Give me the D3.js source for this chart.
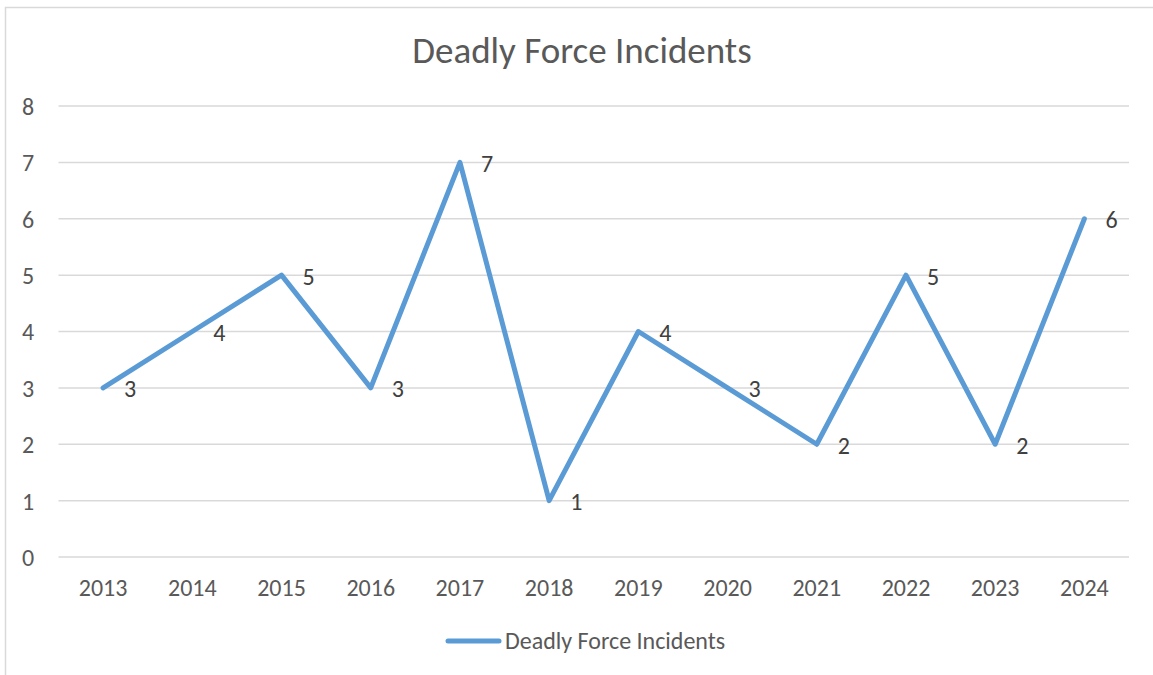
<!DOCTYPE html>
<html><head><meta charset="utf-8">
<script src="https://cdn.jsdelivr.net/npm/d3@7"></script>
<style>html,body{margin:0;padding:0;background:#fff;overflow:hidden}</style>
</head><body>
<svg id="c" width="1153" height="675"></svg>
<script>
const years = ["2013","2014","2015","2016","2017","2018","2019","2020","2021","2022","2023","2024"];
const incidents = [3,4,5,3,7,1,4,3,2,5,2,6];
const yTicks = [0,1,2,3,4,5,6,7,8];
const seriesName = "Deadly Force Incidents";
const titleText = "Deadly Force Incidents";

const svg = d3.select("#c");
const font = "Carlito, Lato, 'Open Sans', sans-serif";
const txt = "#595959";

// chart border (only top/left visible)
svg.append("rect").attr("x",5.5).attr("y",7.5).attr("width",1200).attr("height",700)
  .attr("fill","none").attr("stroke","#d9d9d9").attr("stroke-width",1.5);

const x = d3.scaleBand().domain(years).range([58.5,1129]);
const y = d3.scaleLinear().domain([0,8]).range([557,106]);

// gridlines
svg.append("g").selectAll("line").data(yTicks).join("line")
  .attr("x1",58.5).attr("x2",1129).attr("y1",d=>y(d)).attr("y2",d=>y(d))
  .attr("stroke","#d9d9d9").attr("stroke-width",1.5);

// y axis labels
const yAxis = d3.axisLeft(y).tickValues(yTicks).tickSize(0).tickPadding(0);
const yg = svg.append("g").attr("transform","translate(35,0)").call(yAxis);
yg.select(".domain").remove();
yg.selectAll("text").attr("font-family",font).attr("font-size",24).attr("fill",txt)
  .attr("text-anchor","middle").attr("dy","0.35em").attr("x",-7);

// x axis labels
const xAxis = d3.axisBottom(x).tickSize(0).tickPadding(0);
const xg = svg.append("g").attr("transform","translate(0,579)").call(xAxis);
xg.select(".domain").remove();
xg.selectAll("text").attr("font-family",font).attr("font-size",24).attr("fill",txt).attr("dy","0.35em").attr("y",9);

const cx = d => x(d) + x.bandwidth()/2;
const line = d3.line().x((d,i)=>cx(years[i])).y(d=>y(d));
svg.append("path").datum(incidents).attr("d",line).attr("fill","none")
  .attr("stroke","#5B9BD5").attr("stroke-width",5).attr("stroke-linecap","round").attr("stroke-linejoin","round");

// data labels
svg.append("g").selectAll("text").data(incidents).join("text")
  .attr("x",(d,i)=>cx(years[i])+21).attr("y",d=>y(d)+1).attr("dy","0.35em")
  .attr("font-family",font).attr("font-size",24).attr("fill","#404040").text(d=>d);

// title
svg.append("text").attr("x",582).attr("y",50).attr("dy","0.35em").attr("text-anchor","middle")
  .attr("font-family",font).attr("font-size",37).attr("fill",txt).text(titleText);

// legend
svg.append("line").attr("x1",448).attr("x2",499).attr("y1",641).attr("y2",641)
  .attr("stroke","#5B9BD5").attr("stroke-width",5).attr("stroke-linecap","round");
svg.append("text").attr("x",505).attr("y",641).attr("dy","0.35em")
  .attr("font-family",font).attr("font-size",24).attr("fill",txt).text(seriesName);
</script>
</body></html>
